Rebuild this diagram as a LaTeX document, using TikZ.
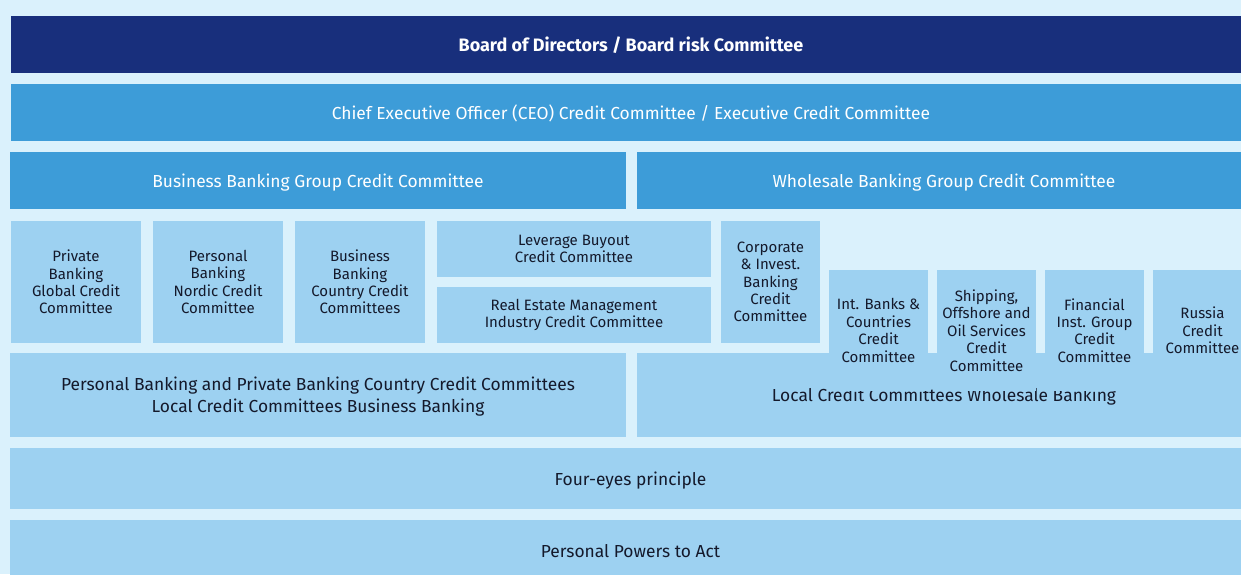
\documentclass[tikz,border=0pt]{standalone}
\usepackage{fontspec}
\setmainfont{Fira Sans}
\usetikzlibrary{positioning}
\definecolor{bgblue}{HTML}{DAF1FC}
\definecolor{navy}{HTML}{182F7C}
\definecolor{midblue}{HTML}{3D9CD8}
\definecolor{lightbox}{HTML}{9DD1F1}
\definecolor{textdark}{HTML}{14192B}
\begin{document}
\begin{tikzpicture}[x=1pt,y=-1pt]
\tikzset{box/.style={rectangle, anchor=north west, inner sep=0pt, outer sep=0pt, align=center, fill=lightbox, text=textdark},
  panel/.style={box, text depth=0pt, font=\fontsize{17.4}{21.8}\selectfont},
  head/.style={panel, fill=midblue, text=white},
  small/.style={box, font=\fontsize{15}{17.4}\selectfont}}
\clip (0,0) rectangle (1241,574);
\fill[bgblue] (0,0) rectangle (1241,574);
% top of the hierarchy
\node[panel, fill=navy, text=white, font=\bfseries\fontsize{18}{20}\selectfont, minimum width=1240pt, minimum height=57pt] (board) at (11,16) {Board of Directors / Board risk Committee};
\node[head, minimum width=1240pt, minimum height=57pt] (ceo) at (11,84) {Chief Executive Officer (CEO) Credit Committee / Executive Credit Committee};
\node[head, minimum width=616pt, minimum height=57pt] (bbgcc) at (10,152) {Business Banking Group Credit Committee};
\node[head, minimum width=614pt, minimum height=57pt] (wbgcc) at (637,152) {Wholesale Banking Group Credit Committee};
% business banking committees
\node[small, minimum width=130pt, minimum height=122pt] (pbgcc) at (11,221) {Private\\Banking\\Global Credit\\Committee};
\node[small, minimum width=130pt, minimum height=122pt] (pbncc) at (153,221) {Personal\\Banking\\Nordic Credit\\Committee};
\node[small, minimum width=130pt, minimum height=122pt] (bbccc) at (295,221) {Business\\Banking\\Country Credit\\Committees};
\node[small, minimum width=274pt, minimum height=56pt] (lbo) at (437,221) {Leverage Buyout\\Credit Committee};
\node[small, minimum width=274pt, minimum height=56pt] (remicc) at (437,287) {Real Estate Management\\Industry Credit Committee};
\node[small, minimum width=99pt, minimum height=122pt] (cibcc) at (721,221) {Corporate\\\& Invest.\\Banking\\Credit\\Committee};
% local committees
\node[panel, minimum width=616pt, minimum height=84pt] (localbb) at (10,353) {Personal Banking and Private Banking Country Credit Committees\\Local Credit Committees Business Banking};
\node[panel, minimum width=614pt, minimum height=84pt] (localwb) at (637,353) {Local Credit Committees Wholesale Banking};
% wholesale banking committees
\node[small, minimum width=99pt, minimum height=121pt] (ibccc) at (829,270) {Int. Banks \&\\Countries\\Credit\\Committee};
\node[small, minimum width=99pt, minimum height=121pt] (soscc) at (937,270) {Shipping,\\Offshore and\\Oil Services\\Credit\\Committee};
\node[small, minimum width=99pt, minimum height=121pt] (figcc) at (1045,270) {Financial\\Inst. Group\\Credit\\Committee};
\node[small, minimum width=99pt, minimum height=121pt] (rcc) at (1153,270) {Russia\\Credit\\Committee};
% base
\node[panel, minimum width=1241pt, minimum height=61pt] (foureyes) at (10,448) {Four-eyes principle};
\node[panel, minimum width=1241pt, minimum height=61pt] (powers) at (10,520) {Personal Powers to Act};
\end{tikzpicture}
\end{document}
